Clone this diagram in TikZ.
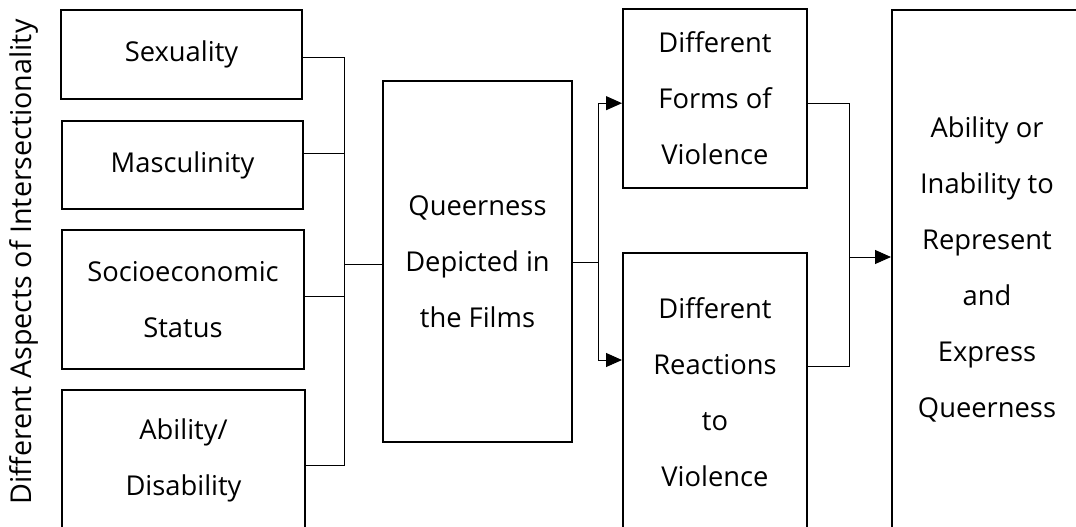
\documentclass[tikz,border=0pt]{standalone}
\usepackage{fontspec}
\setmainfont{Open Sans}
\usetikzlibrary{arrows.meta}

\begin{document}
\begin{tikzpicture}[x=0.75pt, y=-0.75pt]
    \tikzstyle{block} = [rectangle, draw, fill=white, align=center,
        font=\fontsize{20.5}{42}\selectfont, line width=1.5pt, inner sep=0pt]
    \tikzstyle{conn} = [line width=0.75pt]
    \tikzstyle{arrow} = [line width=0.75pt, -{Triangle[length=12pt, width=10.5pt]}]

    \clip (0,0) rectangle (1076,526);

    \node [rotate=90, font=\fontsize{21.5}{42}\selectfont] (aspects) at (24,262) {Different Aspects of Intersectionality};

    \node [block, minimum width=180.75pt, minimum height=66.75pt] (sex) at (181.5,54.5) {Sexuality};
    \node [block, minimum width=180.75pt, minimum height=66pt] (masc) at (182.5,165) {Masculinity};
    \node [block, minimum width=181.5pt, minimum height=104.25pt] (socio) at (183,299.5) {Socioeconomic\\Status};
    \node [block, minimum width=182.25pt, minimum height=105pt] (abil) at (183.5,460) {Ability/\\Disability};

    \node [block, minimum width=141.75pt, minimum height=270.75pt] (queer) at (477.5,261.5) {Queerness\\Depicted in\\the Films};

    \node [block, minimum width=138pt, minimum height=134.25pt] (forms) at (715,98.5) {Different\\Forms of\\Violence};
    \node [block, minimum width=138pt, minimum height=208.5pt] (react) at (715,392) {Different\\Reactions\\to\\Violence};

    \node [block, minimum width=142.5pt, minimum height=388.5pt] (result) at (987,269) {Ability or\\Inability to\\Represent\\and\\Express\\Queerness};

    % aspects feed into queerness
    \coordinate (lbus) at (344,264);
    \draw [conn] ([yshift=-2pt]sex.east) -| (lbus);
    \draw [conn] ([yshift=9pt]masc.east) -| (lbus);
    \draw [conn] ([yshift=2pt]socio.east) -| (lbus);
    \draw [conn] ([yshift=-4pt]abil.east) -| (lbus);
    \draw [conn] (lbus) -- (queer.west |- lbus);

    % queerness splits to violence
    \coordinate (mbus) at (598,262);
    \draw [conn] (queer.east |- mbus) -- (mbus);
    \draw [arrow] (mbus) |- ([yshift=-3.5pt]forms.west);
    \draw [arrow] (mbus) |- ([yshift=24pt]react.west);

    % violence into the result
    \coordinate (rbus) at (849,257);
    \draw [conn] ([yshift=-3.5pt]forms.east) -| (rbus);
    \draw [conn] ([yshift=19.5pt]react.east) -| (rbus);
    \draw [arrow] (rbus) -- (result.west |- rbus);
\end{tikzpicture}
\end{document}
